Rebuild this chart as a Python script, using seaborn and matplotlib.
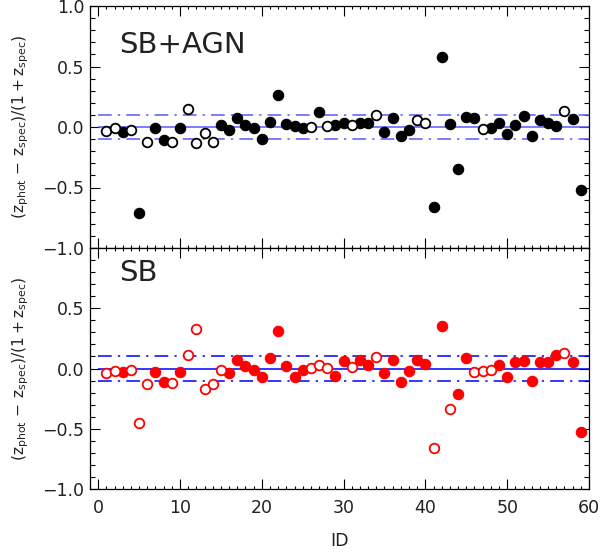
import numpy as np
import pandas as pd
import matplotlib
matplotlib.use("Agg")
import matplotlib.pyplot as plt
from matplotlib.ticker import MultipleLocator, FixedLocator, FixedFormatter
import seaborn as sns

sns.set_theme(style="white")
plt.rcParams['font.family'] = ['DejaVu Sans']
plt.rcParams['mathtext.fontset'] = 'dejavusans'

# ---------------- data ----------------
ids = list(range(1, 60))

top_vals = [-0.033, -0.01, -0.044, -0.025, -0.71, -0.127, -0.011, -0.11, -0.12, -0.011,
            0.146, -0.135, -0.052, -0.127, 0.017, -0.025, 0.072, 0.019, -0.011, -0.099,
            0.041, 0.262, 0.022, 0.011, -0.011, 0.0, 0.124, 0.005, 0.017, 0.036,
            0.014, 0.03, 0.03, 0.096, -0.038, 0.072, -0.074, -0.022, 0.055, 0.03,
            -0.66, 0.576, 0.022, -0.347, 0.083, 0.072, -0.017, -0.011, 0.033, -0.058,
            0.014, 0.094, -0.072, 0.058, 0.03, 0.011, 0.135, 0.066, -0.52]
top_open_ids = [1, 2, 4, 6, 9, 11, 12, 13, 14, 26, 28, 31, 34, 39, 40, 47, 57]

bottom_vals = [-0.039, -0.017, -0.03, -0.014, -0.452, -0.13, -0.025, -0.113, -0.118, -0.025,
               0.11, 0.325, -0.174, -0.127, -0.014, -0.039, 0.072, 0.017, -0.011, -0.074,
               0.091, 0.311, 0.019, -0.074, -0.011, 0.005, 0.028, 0.005, -0.066, 0.061,
               0.011, 0.069, 0.025, 0.094, -0.039, 0.072, -0.11, -0.022, 0.072, 0.039,
               -0.66, 0.355, -0.339, -0.215, 0.091, -0.033, -0.019, -0.014, 0.028, -0.072,
               0.052, 0.066, -0.105, 0.058, 0.05, 0.11, 0.132, 0.052, -0.523]
bottom_open_ids = [1, 2, 4, 5, 6, 9, 11, 12, 13, 14, 15, 26, 27, 28, 31, 34, 41, 43,
                   46, 47, 48, 57]

panel_titles = ["SB+AGN", "SB"]
ytick_vals = [-1.0, -0.5, 0.0, 0.5, 1.0]
xtick_vals = [0, 10, 20, 30, 40, 50, 60]
ylabel = r'$(\mathrm{z_{phot}}\,-\,\mathrm{z_{spec}})/(1+\mathrm{z_{spec}})$'
xlabel = "ID"

# ---------------- figure ----------------
W, H = 602, 554
fig = plt.figure(figsize=(W / 100, H / 100), dpi=100)
left = 90 / W
width = (589 - 90) / W
ax_top = fig.add_axes([left, 1 - 248 / H, width, 242 / H])
ax_bot = fig.add_axes([left, 1 - 489 / H, width, 241 / H])

panels = [
    (ax_top, top_vals, top_open_ids, "black", "#5a5aff", panel_titles[0], 0.68),
    (ax_bot, bottom_vals, bottom_open_ids, "#ff0000", "#0000ff", panel_titles[1], 0.79),
]

for ax, vals, open_ids, col, lcol, title, ty in panels:
    df = pd.DataFrame({"ID": ids, "val": vals})
    df["open"] = df["ID"].isin(open_ids)

    ax.hlines(0.0, 0, 60, color=lcol, lw=1.1, zorder=1)
    for yv in (0.1, -0.1):
        ax.hlines(yv, 0, 60, color=lcol, lw=1.1, linestyles=[(0, (9, 4, 1.5, 4))], zorder=1)

    sns.scatterplot(data=df[~df["open"]], x="ID", y="val", ax=ax, color=col,
                    edgecolor=col, s=56, linewidth=0.8, zorder=3, legend=False)
    sns.scatterplot(data=df[df["open"]], x="ID", y="val", ax=ax, color="white",
                    edgecolor=col, s=48, linewidth=1.3, zorder=3, legend=False)

    ax.set_xlim(-1, 60)
    ax.set_ylim(-1, 1)
    ax.set_xlabel("")
    ax.set_ylabel(ylabel, fontsize=11.2, color="#222222")
    ax.yaxis.set_label_coords(-0.118, 0.5)

    ax.xaxis.set_major_locator(FixedLocator(xtick_vals))
    ax.xaxis.set_minor_locator(MultipleLocator(1))
    ax.yaxis.set_major_locator(FixedLocator(ytick_vals))
    ax.yaxis.set_minor_locator(MultipleLocator(0.1))
    ax.tick_params(which="both", direction="in", top=True, right=True,
                   bottom=True, left=True, color="black", width=0.8)
    ax.tick_params(which="major", length=7, labelsize=12.5, labelcolor="#222222", pad=4)
    ax.tick_params(which="minor", length=3.5)
    ax.tick_params(axis="x", which="minor", length=2.5)
    for sp in ax.spines.values():
        sp.set_color("black")
        sp.set_linewidth(0.9)
    ax.set_facecolor("white")
    ax.text(2.6, ty, title, fontsize=21, va="center", ha="left", color="#222222")

ylabels_fmt = [("\u2212%.1f" % abs(v)) if v < 0 else ("%.1f" % v) for v in ytick_vals]
ax_top.yaxis.set_major_formatter(FixedFormatter(ylabels_fmt))
ax_bot.yaxis.set_major_formatter(FixedFormatter(ylabels_fmt[:-1] + [""]))
ax_top.tick_params(axis="x", labelbottom=False)
ax_bot.xaxis.set_major_formatter(FixedFormatter([str(v) for v in xtick_vals]))
ax_bot.tick_params(axis="x", pad=7)

fig.text(340 / W, 1 - 541 / H, xlabel, ha="center", va="center", fontsize=12.5, color="#222222")

fig.savefig("out.png", dpi=100, facecolor="white")
